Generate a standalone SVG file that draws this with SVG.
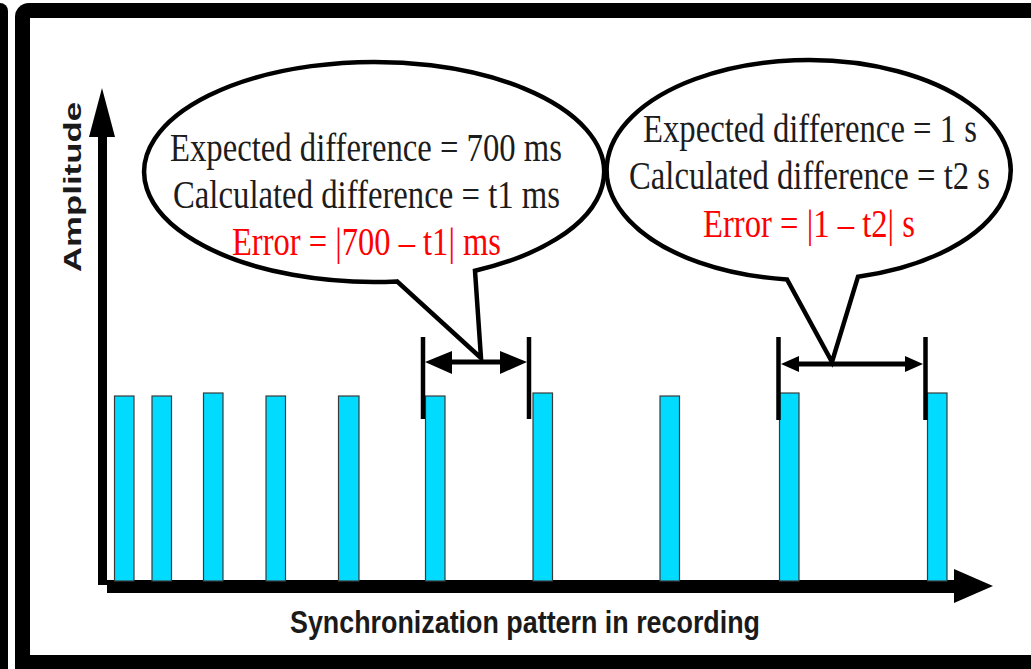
<svg xmlns="http://www.w3.org/2000/svg" width="1031" height="669" viewBox="0 0 1031 669">
<style>
.bt{font-family:"Liberation Serif","Times New Roman",serif;font-size:39px;fill:#1c1c1c;text-anchor:middle}
.red{fill:#ff0000}
.ax{font-family:"Liberation Sans",Arial,sans-serif;font-weight:bold;fill:#1a1a1a;text-anchor:middle}
.bar{fill:#00dbff;stroke:#3a3a3a;stroke-width:1.2}
.callout{fill:#ffffff;stroke:#000;stroke-width:4.5;stroke-linejoin:miter}
.tick{stroke:#000;stroke-width:4.5}
.dim{stroke:#000;stroke-width:5}
</style>
<rect x="0" y="0" width="1031" height="669" fill="#ffffff"/>
<g id="frame">
<rect x="-20" y="3" width="28" height="700" rx="8" fill="#000"/>
<rect x="15" y="3" width="1040" height="700" rx="14" fill="#000"/>
<rect x="30" y="18" width="1020" height="637" fill="#ffffff"/>
</g>
<g id="axes">
<rect x="98" y="135" width="9" height="450" fill="#000"/>
<polygon points="102,88 115,137 89,137" fill="#000"/>
<rect x="107" y="580" width="850" height="13" fill="#000"/>
<polygon points="954,569 993,586 954,603" fill="#000"/>
<text id="ylabel" class="ax" font-size="24" transform="translate(81,187) rotate(-90)" textLength="170" lengthAdjust="spacingAndGlyphs">Amplitude</text>
<text id="xlabel" class="ax" font-size="32" x="525" y="633" textLength="470" lengthAdjust="spacingAndGlyphs">Synchronization pattern in recording</text>
</g>
<g id="bars">
<rect class="bar" x="114.5" y="396" width="19.5" height="185"/>
<rect class="bar" x="152" y="396" width="19.5" height="185"/>
<rect class="bar" x="203.5" y="393" width="19.5" height="188"/>
<rect class="bar" x="266" y="396" width="19.5" height="185"/>
<rect class="bar" x="338.5" y="396" width="20.5" height="185"/>
<rect class="bar" x="425.5" y="396" width="19.5" height="185"/>
<rect class="bar" x="533" y="393" width="19.5" height="188"/>
<rect class="bar" x="660" y="396" width="19.5" height="185"/>
<rect class="bar" x="779.5" y="393" width="19.5" height="188"/>
<rect class="bar" x="927.5" y="393" width="19.5" height="188"/>
</g>
<g id="connectors">
<g id="dim1">
<line class="tick" x1="423" y1="337" x2="423" y2="419"/>
<line class="tick" x1="529" y1="337" x2="529" y2="419"/>
<line class="dim" x1="445" y1="362" x2="507" y2="362"/>
<polygon points="425,362 452,351 452,374" fill="#000"/>
<polygon points="527,362 500,351 500,374" fill="#000"/>
</g>
<g id="dim2">
<line class="tick" x1="778.5" y1="337" x2="778.5" y2="420"/>
<line class="tick" x1="925.5" y1="337" x2="925.5" y2="420"/>
<line class="dim" x1="795" y1="364" x2="910" y2="364"/>
<polygon points="781,364 799,356 799,372" fill="#000"/>
<polygon points="923,364 905,356 905,372" fill="#000"/>
</g>
</g>
<g id="callout1">
<path class="callout" d="M 475 270.8 A 230 110 0 1 0 397 281.4 L 481 358 Z"/>
<text class="bt" x="366" y="161" textLength="392" lengthAdjust="spacingAndGlyphs">Expected difference = 700 ms</text>
<text class="bt" x="366.5" y="208" textLength="387" lengthAdjust="spacingAndGlyphs">Calculated difference = t1 ms</text>
<text class="bt red" x="366.5" y="255" textLength="269" lengthAdjust="spacingAndGlyphs">Error = |700 – t1| ms</text>
</g>
<g id="callout2">
<path class="callout" d="M 858 276.7 A 202 110 0 1 0 787 279.4 L 832 362 Z"/>
<text class="bt" x="810" y="142" textLength="334" lengthAdjust="spacingAndGlyphs">Expected difference = 1 s</text>
<text class="bt" x="809.5" y="189" textLength="361" lengthAdjust="spacingAndGlyphs">Calculated difference = t2 s</text>
<text class="bt red" x="809" y="237" textLength="212" lengthAdjust="spacingAndGlyphs">Error = |1 – t2| s</text>
</g>
</svg>
